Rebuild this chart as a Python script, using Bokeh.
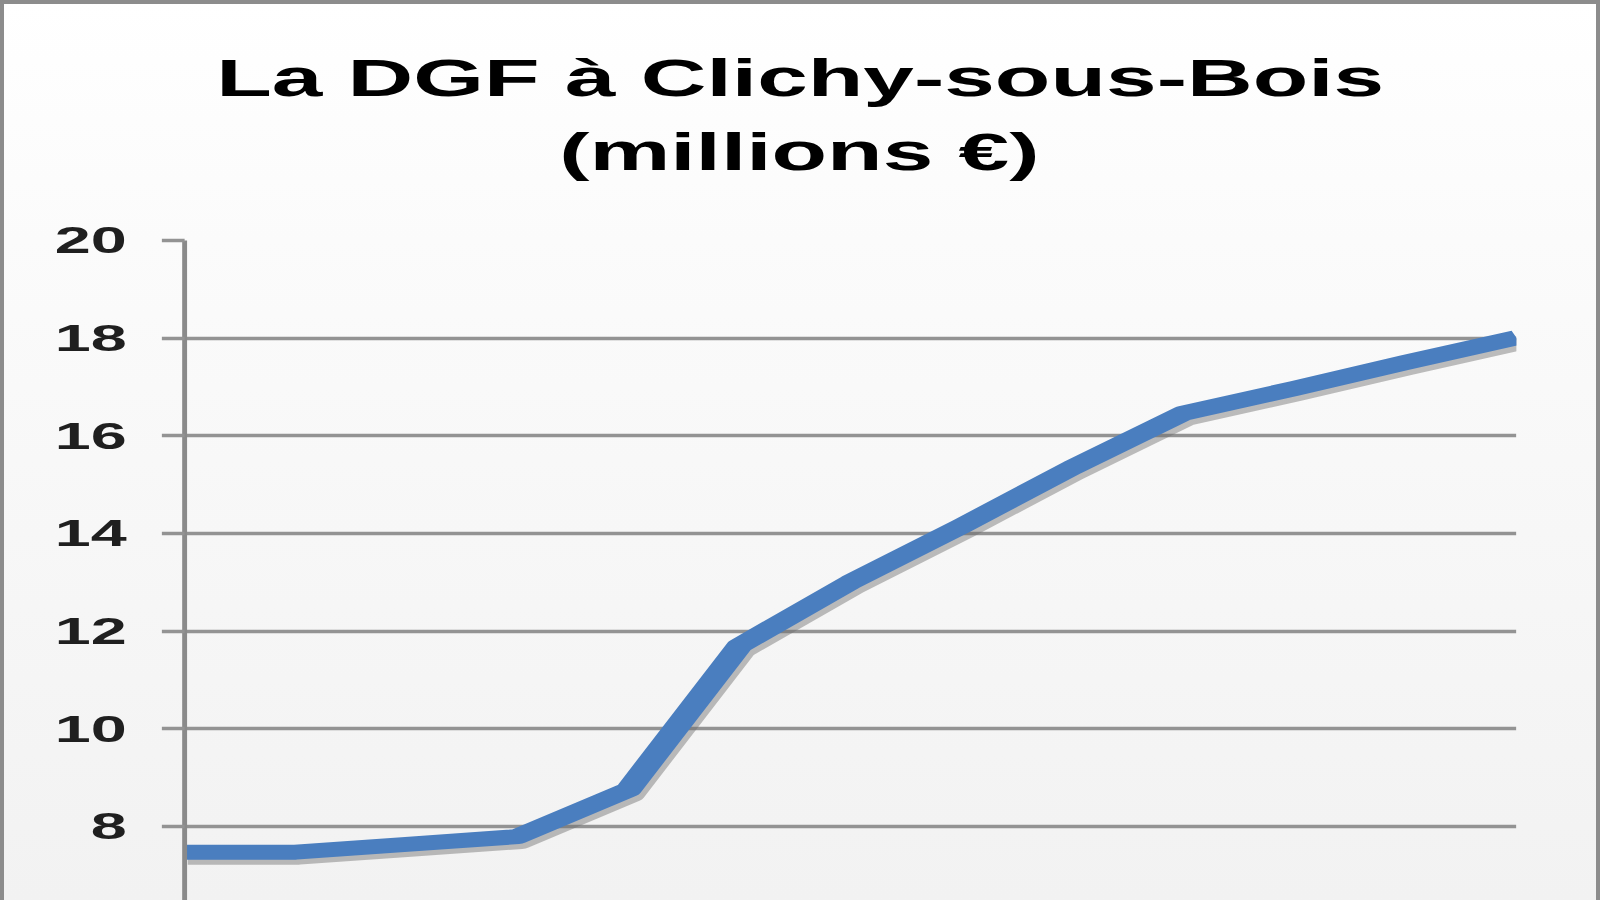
from bokeh.plotting import figure
from bokeh.models import Range1d, FixedTicker, Title
from bokeh.embed import file_html
from bokeh.resources import INLINE

# ---- data ----
years = [2000, 2001, 2002, 2003, 2004, 2005, 2006, 2007, 2008, 2009, 2010, 2011, 2012]
dgf = [7.47, 7.47, 7.63, 7.79, 8.75, 11.7, 13.0, 14.15, 15.35, 16.46, 16.97, 17.5, 18.01]
y_ticks = [8, 10, 12, 14, 16, 18, 20]
title_line1 = "La DGF à Clichy-sous-Bois"
title_line2 = "(millions €)"

# ---- layout / style constants ----
STRETCH = 1.75          # the reference image is horizontally stretched
Y_TOP = 20
Y_BOTTOM = 6.48
CANVAS_W = 910          # internal canvas width (shown 1.75x wider)
H = 900
LEFT, RIGHT, TOP = 105, 44, 240
FONT = "Liberation Sans"
GRID = "#939393"

p = figure(width=round(CANVAS_W / STRETCH), height=H,
           output_backend="svg", toolbar_location=None, title=None,
           x_range=Range1d(years[0], years[-1]),
           y_range=Range1d(Y_BOTTOM, Y_TOP),
           x_axis_location=None, y_axis_location="left",
           min_border_left=LEFT, min_border_right=RIGHT,
           min_border_top=TOP, min_border_bottom=0,
           background_fill_color=None, border_fill_color=None,
           outline_line_color=None)

# shadow ranges (shift a few pixels down/right)
frame_h = H - TOP
frame_w = CANVAS_W - LEFT - RIGHT
dy = 5 * (Y_TOP - Y_BOTTOM) / frame_h
dx = 1.8 * (years[-1] - years[0]) / frame_w
p.extra_y_ranges = {"shadow_y": Range1d(Y_BOTTOM + dy, Y_TOP + dy)}
p.extra_x_ranges = {"shadow_x": Range1d(years[0] - dx, years[-1] - dx)}

p.line(years, dgf, x_range_name="shadow_x", y_range_name="shadow_y",
       line_color="#6f6f6f", line_alpha=0.45, line_width=15, line_join="round")
p.line(years, dgf, line_color="#4a7ebf", line_width=15, line_join="round")

# y axis
ax = p.yaxis[0]
ax.ticker = FixedTicker(ticks=y_ticks)
ax.axis_line_color = "#8a8a8a"
ax.axis_line_width = 2.8
ax.major_tick_out = 13
ax.major_tick_in = 0
ax.major_tick_line_color = GRID
ax.major_tick_line_width = 3.5
ax.minor_tick_line_color = None
ax.major_label_text_font = FONT
ax.major_label_text_font_size = "37px"
ax.major_label_text_font_style = "bold"
ax.major_label_text_color = "#1f1f1f"
ax.major_label_standoff = 20

p.xgrid.visible = False
p.ygrid.ticker = FixedTicker(ticks=y_ticks)
p.ygrid.grid_line_color = GRID
p.ygrid.grid_line_width = 3.5

# title (two lines); the trailing empty line of the second title leaves
# the gap between the title and the plot area
t2 = Title(text=title_line2 + "\n", align="left", text_font=FONT, text_font_size="52px",
           text_font_style="bold", text_color="#000000", text_line_height=1.0,
           standoff=4, offset=214)
t1 = Title(text=title_line1, align="left", text_font=FONT, text_font_size="52px",
           text_font_style="bold", text_color="#000000", standoff=24, offset=18)
p.add_layout(t2, "above")
p.add_layout(t1, "above")

p.styles = {
    "transform": "scaleX(%s)" % STRETCH,
    "transform-origin": "0 0",
}

css = """<style>
html { background: linear-gradient(to bottom, #ffffff 0px, #fbfbfb 240px, #f2f2f2 900px) no-repeat; height: 100%; }
body { margin: 0; overflow: hidden; }
body::after { content: ""; position: fixed; left: 0; top: 0; width: 100vw; height: 100vh;
  box-sizing: border-box; border: 4px solid #8c8c8c; border-bottom: none; pointer-events: none; }
</style>"""

html = file_html(p, INLINE, title="La DGF à Clichy-sous-Bois")
html = html.replace("</head>", css + "</head>", 1)
open("out.html", "w", encoding="utf-8").write(html)
